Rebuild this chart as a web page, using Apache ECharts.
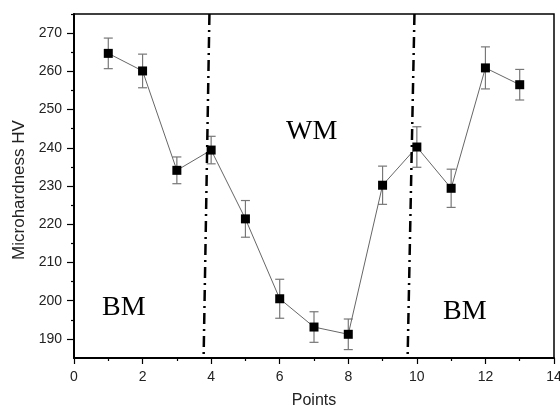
<!DOCTYPE html>
<html>
<head>
<meta charset="utf-8">
<script src="https://cdn.jsdelivr.net/npm/echarts@6/dist/echarts.min.js"></script>
<style>html,body{margin:0;padding:0;background:#fff}#c{width:560px;height:408px}</style>
</head>
<body>
<div id="c"></div>
<script>
var points = [1, 2, 3, 4, 5, 6, 7, 8, 9, 10, 11, 12, 13];
var hardness = [264.7, 260.1, 234.1, 239.4, 221.4, 200.5, 193.1, 191.2, 230.2, 240.2, 229.4, 260.9, 256.5];
var errors = [4.0, 4.4, 3.5, 3.6, 4.8, 5.1, 4.0, 4.0, 5.0, 5.3, 5.0, 5.5, 4.0];
var yMajorTicks = [190, 200, 210, 220, 230, 240, 250, 260, 270];
var yMinorTicks = [195, 205, 215, 225, 235, 245, 255, 265, 275];
var boundaryTopX = [3.95, 9.93];
var boundaryBottomX = [3.78, 9.73];
var yMin = 185, yMax = 275;
var regionLabels = ['BM', 'WM', 'BM'];

var lineData = points.map(function (p, i) { return [p, hardness[i]]; });
var errData = points.map(function (p, i) { return [p, hardness[i] - errors[i], hardness[i] + errors[i]]; });
var boundaries = boundaryTopX.map(function (t, i) {
  return [{ coord: [t, yMax] }, { coord: [boundaryBottomX[i], yMin] }];
});

var chart = echarts.init(document.getElementById('c'));
var txt = { color: '#222', fontFamily: 'Liberation Sans, Arial, sans-serif', fontSize: 14 };
var nameTxt = { color: '#222', fontFamily: 'Liberation Sans, Arial, sans-serif', fontSize: 16 };
chart.setOption({
  animation: false,
  grid: { left: 74, right: 6, top: 14, bottom: 50, containLabel: false, outerBoundsMode: 'none', show: true, borderColor: '#000', borderWidth: 1.5, backgroundColor: 'transparent' },
  xAxis: {
    type: 'value', min: 0, max: 14, interval: 2,
    name: 'Points', nameLocation: 'middle', nameGap: 35,
    nameTextStyle: nameTxt,
    axisLine: { lineStyle: { color: '#000', width: 2 } },
    axisTick: { show: true, inside: false, length: 6, lineStyle: { color: '#000', width: 1.2 } },
    minorTick: { show: true, splitNumber: 2, length: 3, lineStyle: { color: '#000', width: 1.2 } },
    axisLabel: Object.assign({ margin: 12 }, txt),
    splitLine: { show: false }, minorSplitLine: { show: false }
  },
  yAxis: [{
    type: 'value', min: yMin, max: yMax,
    name: 'Microhardness HV', nameLocation: 'middle', nameGap: 44, nameRotate: 90,
    nameTextStyle: Object.assign({}, nameTxt, { fontSize: 17, padding: [0, 8, 0, 0] }),
    axisLine: { show: true, lineStyle: { color: '#000', width: 2 } },
    axisTick: { show: true, inside: false, length: 7, customValues: yMajorTicks, lineStyle: { color: '#000', width: 1.2 } },
    axisLabel: Object.assign({ margin: 12, customValues: yMajorTicks }, txt),
    splitLine: { show: false }
  }, {
    type: 'value', min: yMin, max: yMax, position: 'left',
    axisLine: { show: false },
    axisTick: { show: true, inside: false, length: 3, customValues: yMinorTicks, lineStyle: { color: '#000', width: 1.2 } },
    axisLabel: { show: false },
    splitLine: { show: false }
  }],
  graphic: [
    { type: 'text', left: 102, top: 294, style: { text: regionLabels[0], font: '28px "Liberation Serif", "Times New Roman", serif', fill: '#000' } },
    { type: 'text', left: 286, top: 118, style: { text: regionLabels[1], font: '28px "Liberation Serif", "Times New Roman", serif', fill: '#000' } },
    { type: 'text', left: 443, top: 298, style: { text: regionLabels[2], font: '28px "Liberation Serif", "Times New Roman", serif', fill: '#000' } }
  ],
  series: [{
    type: 'custom',
    z: 2,
    data: errData,
    renderItem: function (params, api) {
      var x = api.value(0);
      var lo = api.coord([x, api.value(1)]);
      var hi = api.coord([x, api.value(2)]);
      var w = 4.5;
      var st = { stroke: '#777', lineWidth: 1.2 };
      return { type: 'group', children: [
        { type: 'line', shape: { x1: lo[0], y1: lo[1], x2: hi[0], y2: hi[1] }, style: st },
        { type: 'line', shape: { x1: lo[0] - w, y1: lo[1], x2: lo[0] + w, y2: lo[1] }, style: st },
        { type: 'line', shape: { x1: hi[0] - w, y1: hi[1], x2: hi[0] + w, y2: hi[1] }, style: st }
      ] };
    }
  }, {
    type: 'line',
    z: 3,
    data: lineData,
    symbol: 'rect', symbolSize: 9,
    itemStyle: { color: '#000' },
    lineStyle: { color: '#666', width: 1 },
    markLine: {
      silent: true, symbol: 'none',
      label: { show: false },
      lineStyle: { color: '#000', width: 2.5, type: [11, 5, 2, 5] },
      data: boundaries
    }
  }]
});
</script>
</body>
</html>
